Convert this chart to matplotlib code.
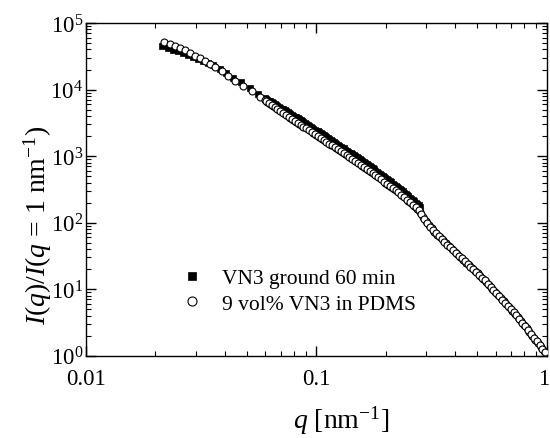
import matplotlib
matplotlib.use('Agg')
import matplotlib.pyplot as plt
from matplotlib import ticker
from matplotlib.transforms import ScaledTranslation

plt.rcParams['font.family'] = ['Liberation Serif', 'DejaVu Serif']
plt.rcParams['mathtext.fontset'] = 'custom'
plt.rcParams['mathtext.rm'] = 'Liberation Serif'
plt.rcParams['mathtext.it'] = 'Liberation Serif:italic'
plt.rcParams['mathtext.bf'] = 'Liberation Serif:bold'

# ---- data: VN3 ground 60 min (filled squares) ----
sq_low = [0.02138,0.02270,0.02387,0.02508,0.02637,0.02773,0.02914,0.03064,0.03221,0.03385,0.03558,
          0.03804,0.04054,0.04346,0.04709,0.05136,0.05582]
si_low = [45200,42400,39700,37500,35500,33300,30900,29000,27200,25100,23000,20700,17800,15100,12800,10700,8610]
sq_high = [0.05957,0.06043,0.06131,0.06219,0.0631,0.06401,0.06494,0.06588,0.06683,0.0678,0.06879,0.06978,
           0.07079,0.07182,0.07286,0.07392,0.07499,0.07608,0.07718,0.0783,0.07943,0.08058,0.08175,0.08294,
           0.08414,0.08536,0.0866,0.08785,0.08913,0.09042,0.09173,0.09306,0.09441,0.09577,0.09716,0.09857,
           0.1,0.1014,0.1029,0.1044,0.1059,0.1075,0.109,0.1106,0.1122,0.1138,0.1155,0.1172,0.1189,0.1206,
           0.1223,0.1241,0.1259,0.1277,0.1296,0.1314,0.1334,0.1353,0.1372,0.1392,0.1413,0.1433,0.1454,0.1475,
           0.1496,0.1518,0.154,0.1562,0.1585,0.1608,0.1631,0.1655,0.1679,0.1703,0.1728,0.1753,0.1778,0.1804,
           0.183,0.1857,0.1884,0.1911,0.1939,0.1967,0.1995,0.2024,0.2054,0.2083,0.2113,0.2144,0.2175,0.2207,
           0.2239,0.2271,0.2304,0.2337,0.2371,0.2406,0.2441,0.2476,0.2512,0.2548,0.2585,0.2623,0.2661,0.2699,
           0.2738,0.2778,0.2818]
si_high = [7500,7270,7050,6840,6630,6430,6230,6040,5860,5680,5510,5350,5180,5030,4880,4730,4580,4450,4310,4180,
           4050,3930,3810,3700,3590,3470,3360,3250,3150,3050,2950,2850,2760,2670,2590,2500,2420,2350,2270,2200,
           2130,2060,1990,1930,1860,1800,1750,1690,1640,1580,1530,1480,1430,1380,1340,1300,1250,1210,1170,1130,
           1100,1060,1030,992,959,928,897,868,840,812,785,760,732,705,679,654,630,607,584,563,
           542,522,503,485,467,450,433,417,402,387,373,359,346,333,321,307,294,282,270,258,
           247,237,227,217,208,199,190,182,174]

# ---- data: 9 vol% VN3 in PDMS (open circles) ----
cq_low = [0.02187,0.02315,0.02435,0.02559,0.02691,0.02829,0.02973,0.03126,0.03286,0.03454,0.03631,
          0.03882,0.04135,0.04435,0.04804,0.05241,0.05693]
ci_low = [52400,48300,44700,42100,39300,35400,32300,29800,27100,24200,21800,19200,16100,13600,11400,9620,7730]
cq_high_a = [0.05957,0.06131,0.0631,0.06494,0.06683,0.06879,0.07079,0.07286,0.07499,0.07718,0.07943,0.08175,
             0.08414,0.0866,0.08913,0.09173,0.09441,0.09716,
             0.1,0.1029,0.1059,0.109,0.1122,0.1155,0.1189,0.1223,0.1259,0.1296,0.1334,0.1372,0.1413,0.1454,
             0.1496,0.154,0.1585,0.1631,0.1679,0.1728,0.1778,0.183,0.1884,0.1939,0.1995,0.2054,0.2113,0.2175,
             0.2239,0.2304,0.2371,0.2441,0.2512,0.2585,0.2661,0.2738,0.2818,0.2901,0.2985,0.3072,0.3162,0.3255,
             0.335,0.3447,0.3548,0.3652,0.3758,0.3868,0.3981,0.4097,0.4217,0.434,0.4467,0.4597,0.4732,0.487,
             0.5012,0.5158,0.5309,0.5464,0.5623,0.5788,0.5957,0.6131,0.631,0.6494,0.6683,0.6879,0.7079,0.7286,
             0.7499,0.7718,0.7943,0.8175,0.8414,0.866,0.8913,0.9173,0.9441,0.9716]
ci_high_a = [6940,6490,6060,5660,5290,4940,4620,4310,4030,3770,3520,3290,3070,2880,2690,2520,2360,2210,
             2070,1940,1820,1700,1590,1490,1400,1310,1220,1140,1070,1000,937,877,820,767,718,672,626,581,
             539,500,464,430,399,370,344,319,296,274,252,231,211,194,178,162,145,122,104,92.3,81.9,73.2,
             66.2,59.9,54.2,49.1,44.4,40.3,36.7,33.3,30.3,27.6,25.1,22.8,20.8,18.9,17.2,15.6,14.2,12.7,11.4,10.2,
             9.18,8.22,7.37,6.61,5.92,5.31,4.75,4.26,3.79,3.33,2.93,2.58,2.27,1.99,1.75,1.54,1.36,1.19]
cq_high_b = [0.06043,0.06219,0.06401,0.06588,0.0678,0.06978,0.07182,0.07392,0.07608,0.0783,0.08058,0.08294,
             0.08536,0.08785,0.09042,0.09306,0.09577,0.09857,
             0.1014,0.1044,0.1075,0.1106,0.1138,0.1172,0.1206,0.1241,0.1277,0.1314,0.1353,0.1392,0.1433,0.1475,
             0.1518,0.1562,0.1608,0.1655,0.1703,0.1753,0.1804,0.1857,0.1911,0.1967,0.2024,0.2083,0.2144,0.2207,
             0.2271,0.2337,0.2406,0.2476,0.2548,0.2623,0.2699,0.2778,0.2859,0.2943,0.3029,0.3117,0.3208,0.3302,
             0.3398,0.3497,0.36,0.3705,0.3813,0.3924,0.4039,0.4157,0.4278,0.4403,0.4532,0.4664,0.48,0.494,
             0.5085,0.5233,0.5386,0.5543,0.5705,0.5872,0.6043,0.6219,0.6401,0.6588,0.678,0.6978,0.7182,0.7392,
             0.7608,0.783,0.8058,0.8294,0.8536,0.8785,0.9042,0.9306,0.9577,0.9857]
ci_high_b = [6710,6270,5860,5470,5110,4780,4460,4170,3900,3640,3400,3180,2970,2780,2610,2440,2290,2140,
             2010,1880,1760,1650,1540,1450,1350,1270,1180,1110,1040,969,907,848,793,742,694,650,603,559,
             519,481,447,414,384,357,331,307,285,263,241,221,202,185,170,153,133,112,98.1,87,77.1,69.6,
             63,57,51.6,46.7,42.3,38.4,35,31.8,28.9,26.3,23.9,21.8,19.8,18,16.4,14.9,13.5,12.1,10.8,9.69,
             8.69,7.79,6.98,6.25,5.6,5.02,4.5,4.03,3.55,3.13,2.75,2.42,2.13,1.87,1.64,1.45,1.27,1.12]

series_labels = ['VN3 ground 60 min', '9 vol% VN3 in PDMS']
x_ticks = [0.01, 0.1, 1]
x_tick_labels = ['0.01', '0.1', '1']
y_ticks = [1, 10, 100, 1000, 10000, 100000]
y_tick_labels = [r'$10^{0}$', r'$10^{1}$', r'$10^{2}$', r'$10^{3}$', r'$10^{4}$', r'$10^{5}$']

sq = sq_low + sq_high
si = si_low + si_high
cq = cq_low + cq_high_a + cq_high_b
ci = ci_low + ci_high_a + ci_high_b

fig = plt.figure(figsize=(5.5, 4.39), dpi=100)
ax = fig.add_axes([86/550, 1-356.7/439, (546.7-86)/550, (356.7-24)/439])
ax.set_xscale('log')
ax.set_yscale('log')
ax.plot(sq, si, ls='none', marker='s', ms=4.7, mfc='black', mec='black', mew=0.5,
        label=series_labels[0], zorder=2)
ax.plot(cq, ci, ls='none', marker='o', ms=5.0, mfc='white', mec='black', mew=0.8,
        label=series_labels[1], zorder=3)
ax.set_xlim(0.01, 1)
ax.set_ylim(1, 1e5)
ax.xaxis.set_major_locator(ticker.FixedLocator(x_ticks))
ax.set_xticklabels(x_tick_labels)
ax.yaxis.set_major_locator(ticker.FixedLocator(y_ticks))
ax.set_yticklabels(y_tick_labels)
ax.xaxis.set_minor_formatter(ticker.NullFormatter())
ax.yaxis.set_minor_formatter(ticker.NullFormatter())
ax.tick_params(which='both', direction='in', top=True, right=True, labelsize=16.5)
ax.tick_params(which='major', length=7, width=1.0)
ax.tick_params(which='minor', length=3.5, width=0.8)
ax.tick_params(axis='x', pad=9)
ax.tick_params(axis='y', pad=2)
for s in ax.spines.values():
    s.set_linewidth(1.0)
ax.set_xlabel(r'$q$ [nm$^{-1}$]', fontsize=20)
ax.set_ylabel(r'$I(q)/I(q$ = 1 nm$^{-1}$)', fontsize=20)
ax.xaxis.set_label_coords(0.553, -0.145)
ax.yaxis.set_label_coords(-0.07, 0.396)
ax.legend(loc='upper left', bbox_to_anchor=(181/550, 1-269/439), bbox_transform=fig.transFigure,
          frameon=False, fontsize=15.5, markerscale=1.3, borderpad=0, borderaxespad=0,
          handlelength=1.0, handletextpad=0.9, labelspacing=0.25)
last = ax.get_xticklabels()[-1]
last.set_transform(last.get_transform() + ScaledTranslation(-3/100, 0, fig.dpi_scale_trans))
fig.savefig('out.png', dpi=100)
